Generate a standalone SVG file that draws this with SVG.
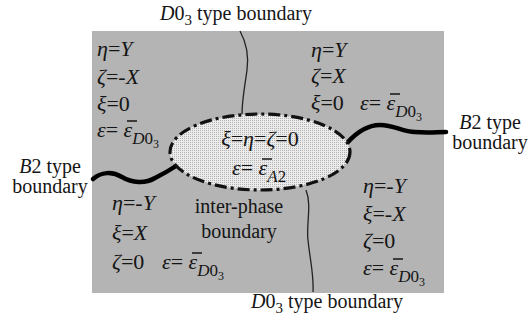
<svg xmlns="http://www.w3.org/2000/svg" width="531" height="322" viewBox="0 0 531 322">
<style>
.lbl{font-family:"Liberation Serif","Times New Roman",serif;font-size:20px;fill:#151515}
.eq{font-family:"Liberation Serif","Times New Roman",serif;font-size:22px;fill:#151515}
.i{font-style:italic}
.sub{font-size:17px}
.sub2{font-size:12px}
.ob{stroke:#151515;stroke-width:1.5}
.thin{fill:none;stroke:#222;stroke-width:1.3}
.thick{fill:none;stroke:#000;stroke-width:4.5;stroke-linecap:round}
</style>
<defs>
<pattern id="dots" width="2" height="2" patternUnits="userSpaceOnUse">
<rect width="2" height="2" fill="#ececec"/>
<rect x="0" y="0" width="1" height="1" fill="#b2b2b2"/>
</pattern>
</defs>
<rect id="domain" x="92" y="31" width="352" height="262" fill="#b4b4b4"/>
<g id="connectors">
<path class="thin" d="M240,31 C246,42 249,55 247,70 C245,85 242,100 242,114"/>
<path class="thin" d="M306,190 C312,205 306,225 308,240 C310,260 314,275 313,292"/>
<path class="thick" d="M93,179 C101,172 112,171 122,177 C132,183 145,184 155,178 C163,174 170,170 176,166"/>
<path class="thick" d="M347,143 C356,133 368,125 380,125 C395,125 402,132 415,132 C428,133 437,132 446,132"/>
</g>
<g id="interphase">
<ellipse cx="260" cy="152" rx="90" ry="38" fill="url(#dots)" stroke="#111" stroke-width="3.2" stroke-dasharray="12,4,3,4"/>
<text class="eq" x="260" y="146" text-anchor="middle"><tspan class="i">ξ</tspan>=<tspan class="i">η</tspan>=<tspan class="i">ζ</tspan>=0</text>
<text class="eq" x="232" y="175"><tspan class="i">ε</tspan>= <tspan class="i">ε</tspan><tspan class="sub i" dy="7">A</tspan><tspan class="sub">2</tspan></text>
<line class="ob" x1="262" y1="159" x2="272" y2="159"/>
</g>
<g id="region-top-left">
<text class="eq" x="97" y="56"><tspan class="i">η</tspan>=<tspan class="i">Y</tspan></text>
<text class="eq" x="97" y="84"><tspan class="i">ζ</tspan>=-<tspan class="i">X</tspan></text>
<text class="eq" x="97" y="111"><tspan class="i">ξ</tspan>=0</text>
<text class="eq" x="97" y="137"><tspan class="i">ε</tspan>= <tspan class="i">ε</tspan><tspan class="sub i" dy="7">D</tspan><tspan class="sub">0</tspan><tspan class="sub2" dy="4">3</tspan></text>
<line class="ob" x1="127" y1="121" x2="137" y2="121"/>
</g>
<g id="region-top-right">
<text class="eq" x="311" y="57"><tspan class="i">η</tspan>=<tspan class="i">Y</tspan></text>
<text class="eq" x="311" y="83"><tspan class="i">ζ</tspan>=<tspan class="i">X</tspan></text>
<text class="eq" x="311" y="110"><tspan class="i">ξ</tspan>=0</text>
<text class="eq" x="360" y="110"><tspan class="i">ε</tspan>= <tspan class="i">ε</tspan><tspan class="sub i" dy="7">D</tspan><tspan class="sub">0</tspan><tspan class="sub2" dy="4">3</tspan></text>
<line class="ob" x1="390" y1="94" x2="400" y2="94"/>
</g>
<g id="region-bottom-left">
<text class="eq" x="112" y="210"><tspan class="i">η</tspan>=-<tspan class="i">Y</tspan></text>
<text class="eq" x="112" y="240"><tspan class="i">ξ</tspan>=<tspan class="i">X</tspan></text>
<text class="eq" x="112" y="269"><tspan class="i">ζ</tspan>=0</text>
<text class="eq" x="162" y="269"><tspan class="i">ε</tspan>= <tspan class="i">ε</tspan><tspan class="sub i" dy="7">D</tspan><tspan class="sub">0</tspan><tspan class="sub2" dy="4">3</tspan></text>
<line class="ob" x1="192" y1="253" x2="202" y2="253"/>
</g>
<g id="region-bottom-right">
<text class="eq" x="363" y="193"><tspan class="i">η</tspan>=-<tspan class="i">Y</tspan></text>
<text class="eq" x="363" y="221"><tspan class="i">ξ</tspan>=-<tspan class="i">X</tspan></text>
<text class="eq" x="363" y="248"><tspan class="i">ζ</tspan>=0</text>
<text class="eq" x="363" y="275"><tspan class="i">ε</tspan>= <tspan class="i">ε</tspan><tspan class="sub i" dy="7">D</tspan><tspan class="sub">0</tspan><tspan class="sub2" dy="4">3</tspan></text>
<line class="ob" x1="393" y1="259" x2="403" y2="259"/>
</g>
<g id="label-top">
<text class="lbl" x="160" y="20"><tspan class="i">D</tspan>0<tspan font-size="15" dy="5">3</tspan><tspan dy="-5">  type boundary</tspan></text>
</g>
<g id="label-bottom">
<text class="lbl" x="251" y="308"><tspan class="i">D</tspan>0<tspan font-size="15" dy="5">3</tspan><tspan dy="-5">  type boundary</tspan></text>
</g>
<g id="label-left">
<text class="lbl" x="50" y="173" text-anchor="middle"><tspan class="i">B</tspan>2 type</text>
<text class="lbl" x="50" y="193" text-anchor="middle">boundary</text>
</g>
<g id="label-right">
<text class="lbl" x="490" y="129" text-anchor="middle"><tspan class="i">B</tspan>2 type</text>
<text class="lbl" x="490" y="149" text-anchor="middle">boundary</text>
</g>
<g id="label-interphase">
<text class="lbl" x="239" y="213" text-anchor="middle">inter-phase</text>
<text class="lbl" x="239" y="238" text-anchor="middle">boundary</text>
</g>
</svg>
